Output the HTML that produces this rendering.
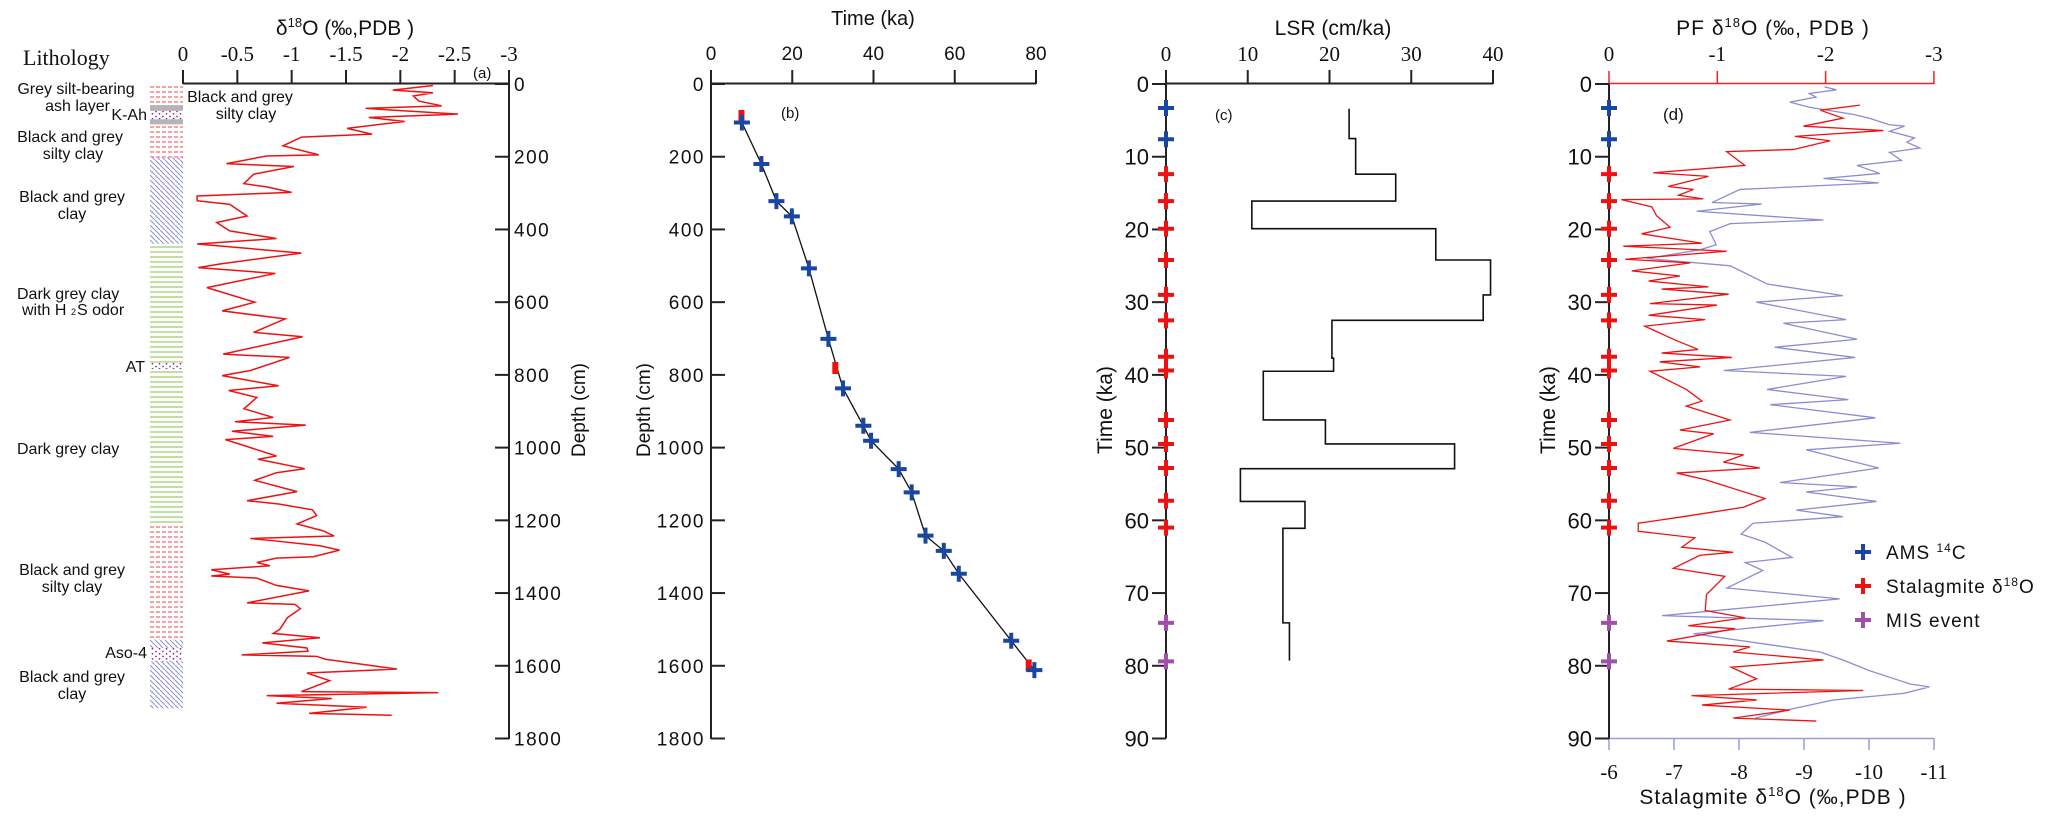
<!DOCTYPE html>
<html><head><meta charset="utf-8"><style>
html,body{margin:0;padding:0;background:#fff;}
svg{display:block;}
.sans{font-family:"Liberation Sans",sans-serif;}
.serif{font-family:"Liberation Serif",serif;}
</style></head><body>
<svg id="chart" width="2067" height="821" viewBox="0 0 2067 821" xmlns="http://www.w3.org/2000/svg">
<defs>
<pattern id="pRed" width="6" height="5" patternUnits="userSpaceOnUse"><line x1="0" y1="2" x2="4" y2="2" stroke="#f07070" stroke-width="1.3"/></pattern>
<pattern id="pBlue" width="5" height="5" patternUnits="userSpaceOnUse"><line x1="0" y1="0" x2="5" y2="5" stroke="#8c8cd8" stroke-width="1"/></pattern>
<pattern id="pGreen" width="6" height="5" patternUnits="userSpaceOnUse"><line x1="0" y1="2" x2="6" y2="2" stroke="#9fd070" stroke-width="1.3"/></pattern>
<pattern id="pDot" width="7" height="5" patternUnits="userSpaceOnUse"><circle cx="2" cy="1.5" r="0.9" fill="#9030a0"/><circle cx="5.5" cy="3.8" r="0.9" fill="#9030a0"/></pattern>
</defs>
<g id="litho"></g>
<g id="pa"></g>
<g id="pb"></g>
<g id="pc"></g>
<g id="pd"></g>
</svg>
<script>
// ---------- Panel a data ----------
const aDepth=[4,17,24,33,47,60,67,83,92,103,122,138,146,170,195,198,219,227,248,274,283,298,308,321,331,363,381,404,425,440,465,495,505,521,560,600,624,646,683,695,743,752,788,802,830,843,862,893,917,929,938,955,969,978,998,1023,1032,1058,1069,1090,1121,1146,1155,1171,1187,1210,1229,1243,1250,1257,1270,1282,1300,1304,1316,1325,1336,1348,1353,1359,1379,1394,1427,1431,1443,1468,1500,1511,1523,1537,1551,1560,1570,1574,1582,1609,1620,1641,1671,1674,1682,1690,1703,1714,1731,1736];
const aD18O=[-2.3,-1.93,-2.3,-2.12,-2.17,-2.38,-1.68,-2.53,-1.71,-2.04,-1.51,-1.74,-1.09,-0.92,-1.25,-0.77,-0.4,-1.02,-0.65,-0.56,-0.77,-1.0,-0.13,-0.13,-0.43,-0.59,-0.31,-0.43,-0.86,-0.13,-1.09,-0.34,-0.14,-0.85,-0.22,-0.66,-0.36,-0.94,-0.65,-1.1,-0.37,-0.98,-0.62,-0.36,-0.88,-0.42,-0.68,-0.56,-0.83,-0.48,-1.13,-0.45,-0.83,-0.39,-0.6,-0.86,-0.69,-1.12,-0.86,-0.66,-1.05,-0.59,-0.88,-1.19,-1.23,-1.05,-1.29,-1.39,-0.62,-0.86,-1.26,-1.44,-1.2,-0.86,-0.68,-0.8,-0.26,-0.43,-0.26,-0.68,-0.86,-1.16,-0.59,-1.03,-1.08,-0.96,-0.89,-0.83,-1.26,-0.73,-1.14,-1.15,-0.54,-1.23,-1.31,-1.97,-1.14,-1.35,-1.09,-2.35,-0.77,-1.37,-0.86,-1.69,-1.16,-1.92];
const aTicks=[0,-0.5,-1,-1.5,-2,-2.5,-3];
const aTickLabels=["0","-0.5","-1","-1.5","-2","-2.5","-3"];
const depthTicks=[0,200,400,600,800,1000,1200,1400,1600,1800];
// lithology layers: top, bottom, pattern
const lithTop=[0,58,74,97,111,202,439,1210,1528,1551,1588,766];
const lithBot=[58,74,97,111,202,439,1210,1528,1551,1588,1717,784];
const lithFill=["pRed","grey","pDot","grey","pRed","pBlue","pGreen","pRed","pBlue","pDot","pBlue","pDot"];
// ---------- Panel b data ----------
const bTime=[7.6,12.4,16.1,19.9,24.1,28.9,32.5,37.5,39.4,46.2,49.4,52.8,57.3,61.0,73.9,79.6];
const bDepth=[106,220,322,364,507,701,837,940,981,1059,1123,1242,1284,1347,1531,1612];
const bRedTime=[7.5,30.6,78.2];
const bRedDepth=[88,781,1599];
const bTicks=[0,20,40,60,80];
// ---------- Panel c data ----------
const cStart=[3.4,7.5,12.4,16.1,19.9,24.2,29.0,32.5,37.7,39.5,46.2,49.5,52.9,57.4,61.1,74.1];
const cEnd=[7.5,12.4,16.1,19.9,24.2,29.0,32.5,37.7,39.5,46.2,49.5,52.9,57.4,61.1,74.1,79.3];
const cLSR=[22.4,23.2,28.1,10.5,33.0,39.7,38.8,20.3,20.5,11.9,19.5,35.3,9.1,17.0,14.3,15.1];
const cTicks=[0,10,20,30,40];
const timeTicks=[0,10,20,30,40,50,60,70,80,90];
const amsTimes=[3.3,7.6];
const stalTimes=[12.4,16.1,19.9,24.2,29.0,32.5,37.5,39.4,46.2,49.5,52.8,57.3,61.0];
const misTimes=[74.1,79.4];
// ---------- Panel d data ----------
const stTime=[2.9,3.6,4.7,5.8,6.4,7.2,7.8,9.0,9.3,11.2,12.2,12.7,14.1,14.5,15.3,15.8,15.9,16.9,18.1,19.7,20.6,21.9,22.3,23.0,24.1,24.6,25.7,26.4,27.1,27.9,28.2,28.9,30.2,30.4,31.8,32.4,33.3,35.3,36.5,37.0,37.6,38.2,38.9,39.5,42.0,43.6,44.3,46.2,47.6,48.1,50.1,51.0,52.0,52.8,53.5,54.4,57.0,58.2,59.5,60.4,61.5,62.4,63.7,64.4,64.8,66.6,67.7,70.2,72.4,73.4,74.5,74.9,76.6,77.4,78.1,79.2,80.2,81.8,83.2,83.4,84.1,84.7,85.4,86.1,87.2,87.6];
const stD18O=[-9.86,-9.25,-9.6,-8.99,-10.22,-8.86,-9.4,-8.84,-7.81,-8.09,-6.68,-7.53,-6.91,-7.3,-7.07,-7.45,-6.19,-6.66,-6.73,-6.94,-6.5,-7.43,-6.22,-7.81,-6.25,-7.25,-6.35,-7.09,-6.61,-7.53,-6.81,-7.84,-6.63,-7.66,-6.61,-7.48,-6.55,-7.04,-7.37,-6.81,-7.89,-6.78,-7.4,-6.63,-7.19,-7.43,-7.19,-7.86,-7.09,-7.61,-6.99,-8.07,-7.76,-8.32,-7.04,-7.48,-8.4,-8.07,-7.14,-6.45,-6.45,-7.32,-7.12,-7.91,-7.4,-6.99,-7.78,-7.5,-7.48,-8.09,-7.22,-7.94,-6.89,-8.17,-7.91,-9.3,-7.88,-8.27,-7.84,-9.91,-7.27,-8.27,-7.43,-8.78,-7.91,-9.19];
const pfTime=[0.4,0.8,1.3,1.8,2.5,3.2,4.2,4.7,5.6,5.8,6.5,7.4,8.0,8.8,9.4,10.5,11.2,12.3,13.0,13.6,14.5,16.3,16.5,17.5,18.7,19.2,20.3,22.1,22.8,24.0,25.0,27.5,29.1,30.0,32.4,32.9,35.1,36.2,37.6,39.4,40.2,42.0,43.4,44.1,45.9,47.9,49.4,50.3,52.8,54.8,55.4,56.1,57.4,58.6,59.5,60.4,61.9,63.0,65.1,65.8,66.9,69.3,70.8,72.7,73.1,73.8,75.6,78.1,79.2,80.7,82.5,82.9,83.8,84.7,86.0,87.2];
const pfD18O=[-1.99,-2.1,-1.85,-1.91,-1.67,-1.85,-2.26,-2.4,-2.59,-2.73,-2.59,-2.82,-2.75,-2.87,-2.59,-2.7,-2.29,-2.5,-1.98,-2.49,-1.21,-0.95,-1.41,-0.81,-1.98,-1.12,-0.93,-0.99,-0.84,-0.35,-1.12,-1.46,-2.16,-1.36,-2.19,-1.61,-2.29,-1.53,-2.27,-1.06,-2.19,-1.46,-2.21,-1.49,-2.46,-1.3,-2.69,-1.82,-2.49,-1.58,-2.29,-1.82,-2.47,-1.73,-2.16,-1.33,-1.22,-1.44,-1.69,-1.26,-1.42,-1.09,-2.13,-0.78,-0.49,-1.98,-0.78,-1.95,-2.16,-2.41,-2.78,-2.96,-2.72,-2.07,-1.67,-1.35];
const pfTicks=[0,-1,-2,-3];
const stTicks=[-6,-7,-8,-9,-10,-11];

const NS='http://www.w3.org/2000/svg';
function mk(parent,tag,attrs,text){const e=document.createElementNS(NS,tag);for(const k in attrs)e.setAttribute(k,attrs[k]);if(text!==undefined)e.textContent=text;parent.appendChild(e);return e;}
// scales
const Y0=84,Y1=738.5;
const yDepth=d=>Y0+d*(Y1-Y0)/1800;
const yTime=t=>Y0+t*(Y1-Y0)/90;
const xA=v=>183+(-v)*108.67;
const xB=t=>711+t*4.0625;
const xC=v=>1166+v*8.175;
const xPF=v=>1609+(-v)*108.3;
const xST=v=>1609+(-6-v)*65;

function cross(g,x,y,color,name){
  const c=mk(g,'path',{d:`M${x-8},${y}H${x+8}M${x},${y-8}V${y+8}`,stroke:color,'stroke-width':4,fill:'none'});
  
  
}
function txt(g,x,y,s,cls,size,anchor,name,extra){
  const t=mk(g,'text',Object.assign({x:x,y:y,'class':cls,'font-size':size,'text-anchor':anchor||'start',fill:'#111'},extra||{}),s);
  
  
  return t;
}

// ---------- Lithology ----------
const L=document.getElementById('litho');
for(let i=0;i<lithTop.length;i++){
  const f=lithFill[i]==='grey'?'#b4b4b4':'url(#'+lithFill[i]+')';
  if(lithFill[i]==='pDot') { const w=mk(L,'rect',{x:150,y:yDepth(lithTop[i]),width:33,height:yDepth(lithBot[i])-yDepth(lithTop[i]),fill:'#fff'});   }
  const r=mk(L,'rect',{x:150,y:yDepth(lithTop[i]),width:33,height:yDepth(lithBot[i])-yDepth(lithTop[i]),fill:f});
  
  
}
txt(L,23,65,'Lithology','serif',22,'start','lithology-title');
const lab=[['Grey silt-bearing',76,94,'middle'],['ash layer',110,111,'end'],['K-Ah',147,120,'end'],['Black and grey',123,142,'end'],['silty clay',73,159,'middle'],['Black and  grey',125,202,'end'],['clay',72,219,'middle'],['Dark grey clay',17,299,'start'],['with H',22,315,'start'],['AT',145,372,'end'],['Dark grey clay',17,454,'start'],['Black and  grey',125,575,'end'],['silty clay',72,592,'middle'],['Aso-4',147,658,'end'],['Black and  grey',125,682,'end'],['clay',72,699,'middle']];
lab.forEach(l=>{txt(L,l[1],l[2],l[0],'sans',16,l[3],'lithology-label');});
txt(L,71,315,'2','sans',9,'start','subscript-2');
txt(L,77,315,'S odor','sans',16,'start','lithology-label');

// ---------- Panel a ----------
const A=document.getElementById('pa');
let p=mk(A,'path',{d:'M183,83.5H509',stroke:'#222','stroke-width':2,fill:'none'});
aTicks.forEach((v,i)=>{const t=mk(A,'line',{x1:xA(v),x2:xA(v),y1:84,y2:70,stroke:'#222','stroke-width':2});
 txt(A,xA(v),61,aTickLabels[i],'serif',21,'middle','x-tick-label-a');});
p=mk(A,'path',{d:'M509,83V739',stroke:'#222','stroke-width':2,fill:'none'});
depthTicks.forEach(d=>{const t=mk(A,'line',{x1:495,x2:509,y1:yDepth(d),y2:yDepth(d),stroke:'#222','stroke-width':2});
 txt(A,514,yDepth(d)+7,String(d),'sans',19,'start','depth-tick-label-a',{'letter-spacing':'1.5'});});
txt(A,0,0,'Depth (cm)','sans',19,'middle','depth-axis-title-a',{transform:'translate(585,410) rotate(-90)'});
let t0=txt(A,345,35,'','sans',21,'middle','x-axis-title-a');t0.innerHTML='δ<tspan dy="-8" font-size="13">18</tspan><tspan dy="8">O (‰,PDB )</tspan>';
p=mk(A,'polyline',{points:aDepth.map((d,i)=>xA(aD18O[i])+','+yDepth(d)).join(' '),fill:'none',stroke:'#ee1111','stroke-width':1.5});
txt(A,240,102,'Black and grey','sans',16,'middle','annotation-a');
txt(A,246,119,'silty clay','sans',16,'middle','annotation-a');
txt(A,473,78,'(a)','sans',15,'start','panel-label-a');

// ---------- Panel b ----------
const B=document.getElementById('pb');
p=mk(B,'path',{d:'M711,739V83.5H1036',stroke:'#222','stroke-width':2,fill:'none'});
bTicks.forEach(v=>{const t=mk(B,'line',{x1:xB(v),x2:xB(v),y1:84,y2:70,stroke:'#222','stroke-width':2});
 txt(B,xB(v),60,String(v),'sans',19,'middle','x-tick-label-b');});
depthTicks.forEach(d=>{const t=mk(B,'line',{x1:711,x2:725,y1:yDepth(d),y2:yDepth(d),stroke:'#222','stroke-width':2});
 txt(B,705,yDepth(d)+7,String(d),'sans',19,'end','depth-tick-label-b',{'letter-spacing':'1.5'});});
txt(B,0,0,'Depth (cm)','sans',19,'middle','depth-axis-title-b',{transform:'translate(650,410) rotate(-90)'});
txt(B,873,25,'Time (ka)','sans',20,'middle','x-axis-title-b');
p=mk(B,'polyline',{points:bTime.map((t,i)=>xB(t)+','+yDepth(bDepth[i])).join(' '),fill:'none',stroke:'#111','stroke-width':1.3});
bRedTime.forEach((t,i)=>{const r=mk(B,'rect',{x:xB(t)-3,y:yDepth(bRedDepth[i])-6,width:6,height:12,fill:'#ee1111'});});
bTime.forEach((t,i)=>cross(B,xB(t),yDepth(bDepth[i]),'#1846a0','ams-date-point'));
txt(B,781,118,'(b)','sans',15,'start','panel-label-b');

// ---------- time axis helper ----------
function timeAxis(G,x,name){
  p=mk(G,'path',{d:`M${x},${Y0}V${Y1}`,stroke:'#222','stroke-width':2,fill:'none'});
  timeTicks.forEach(t=>{const l=mk(G,'line',{x1:x-14,x2:x,y1:yTime(t),y2:yTime(t),stroke:'#222','stroke-width':2});
   txt(G,x-17,yTime(t)+8,String(t),'sans',22,'end','time-tick-label');});
  txt(G,0,0,'Time (ka)','sans',21,'middle','time-axis-title',{transform:`translate(${x-54},410) rotate(-90)`});
  amsTimes.forEach(t=>cross(G,x,yTime(t),'#1846a0','ams-marker'));
  stalTimes.forEach(t=>cross(G,x,yTime(t),'#ee1111','stalagmite-marker'));
  misTimes.forEach(t=>cross(G,x,yTime(t),'#a050a8','mis-marker'));
}
// ---------- Panel c ----------
const C=document.getElementById('pc');
p=mk(C,'path',{d:'M1166,83.5H1493',stroke:'#222','stroke-width':2,fill:'none'});
cTicks.forEach(v=>{const l=mk(C,'line',{x1:xC(v),x2:xC(v),y1:84,y2:70,stroke:'#222','stroke-width':2});
 txt(C,xC(v),61,String(v),'serif',21,'middle','x-tick-label-c');});
txt(C,1333,35,'LSR (cm/ka)','sans',21,'middle','x-axis-title-c');
let dpath='';
cLSR.forEach((v,i)=>{dpath+=(i===0?'M':'L')+xC(v)+','+yTime(cStart[i])+'L'+xC(v)+','+yTime(cEnd[i]);});
p=mk(C,'path',{d:dpath,fill:'none',stroke:'#111','stroke-width':1.6});
timeAxis(C,1166,'time-axis-c');
txt(C,1215,120,'(c)','sans',15,'start','panel-label-c');

// ---------- Panel d ----------
const D=document.getElementById('pd');
p=mk(D,'path',{d:'M1609,83.5H1934',stroke:'#ee2222','stroke-width':1.5,fill:'none'});
pfTicks.forEach(v=>{const l=mk(D,'line',{x1:xPF(v),x2:xPF(v),y1:84,y2:71,stroke:'#ee2222','stroke-width':1.5});
 txt(D,xPF(v),61,String(v),'serif',21,'middle','pf-tick-label');});
let t1=txt(D,1773,35,'','sans',21,'middle','pf-axis-title',{'letter-spacing':'1'});t1.innerHTML='PF δ<tspan dy="-8" font-size="13">18</tspan><tspan dy="8">O (‰, PDB )</tspan>';
p=mk(D,'path',{d:'M1609,738.5H1934',stroke:'#9a9ade','stroke-width':1.5,fill:'none'});
stTicks.forEach(v=>{const l=mk(D,'line',{x1:xST(v),x2:xST(v),y1:738,y2:750,stroke:'#9a9ade','stroke-width':1.5});
 txt(D,xST(v),779,String(v),'serif',21,'middle','stalagmite-tick-label');});
let t2=txt(D,1773,804,'','sans',21,'middle','stalagmite-axis-title',{'letter-spacing':'1'});t2.innerHTML='Stalagmite δ<tspan dy="-8" font-size="13">18</tspan><tspan dy="8">O (‰,PDB )</tspan>';
p=mk(D,'polyline',{points:pfTime.map((t,i)=>xPF(pfD18O[i])+','+yTime(t)).join(' '),fill:'none',stroke:'#8c8cd2','stroke-width':1.3});
p=mk(D,'polyline',{points:stTime.map((t,i)=>xST(stD18O[i])+','+yTime(t)).join(' '),fill:'none',stroke:'#ee1111','stroke-width':1.3});
timeAxis(D,1609,'time-axis-d');
txt(D,1663,120,'(d)','sans',17,'start','panel-label-d');
// legend
const lg=mk(D,'g',{});


cross(lg,1863,552,'#1846a0','legend-ams-marker');
let l1=txt(lg,1886,559,'','sans',19,'start','legend-ams',{'letter-spacing':'1'});l1.innerHTML='AMS <tspan dy="-7" font-size="12">14</tspan><tspan dy="7">C</tspan>';
cross(lg,1863,586,'#ee1111','legend-stalagmite-marker');
let l2=txt(lg,1886,593,'','sans',19,'start','legend-stalagmite',{'letter-spacing':'1'});l2.innerHTML='Stalagmite δ<tspan dy="-7" font-size="12">18</tspan><tspan dy="7">O</tspan>';
cross(lg,1863,620,'#a050a8','legend-mis-marker');
txt(lg,1886,627,'MIS event','sans',19,'start','legend-mis',{'letter-spacing':'1'});
</script>
</body></html>
